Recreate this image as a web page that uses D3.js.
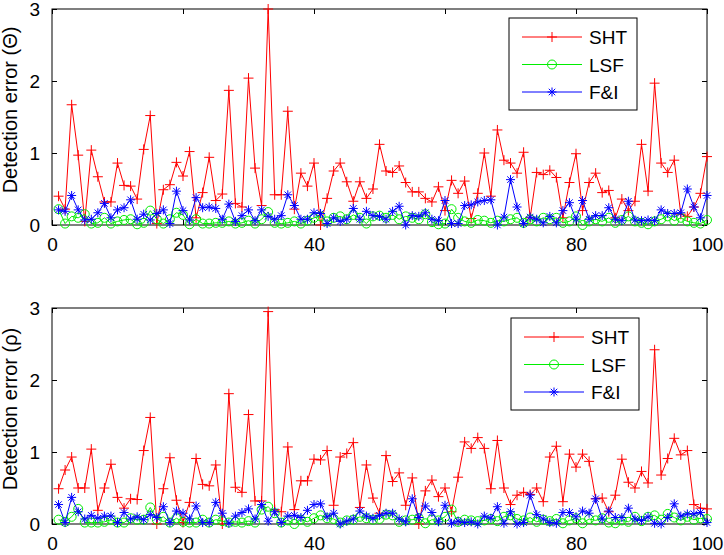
<!DOCTYPE html>
<html>
<head>
<meta charset="utf-8">
<style>
  body { margin: 0; background: #fff; }
  svg text { font-family: "Liberation Sans", Arial, Helvetica, sans-serif; }
</style>
</head>
<body>
<div id="viz_area"></div>
<script src="https://d3js.org/d3.v7.min.js"></script>
<script>
    // trial index (1..100) and the x tick labels
    var trials = d3.range(1, 101);
    var xTicks = [0, 20, 40, 60, 80, 100];
    var yTicks = [0, 1, 2, 3];
    var seriesNames = ["SHT", "LSF", "F&I"];

    // detection error (Theta)
    var shtTheta = [0.40,0.22,1.67,0.97,0.05,1.04,0.67,0.32,0.32,0.86,
                    0.55,0.54,0.36,1.05,1.52,0.02,0.49,0.56,0.87,0.68,
                    1.02,0.10,0.45,0.94,0.34,0.43,1.87,0.30,0.25,2.04,
                    0.79,0.27,3.00,0.42,0.42,1.58,0.22,0.72,0.54,0.86,
                    0.00,0.37,0.75,0.86,0.60,0.33,0.60,0.37,0.50,1.12,
                    0.75,0.73,0.82,0.59,0.46,0.46,0.37,0.32,0.53,0.20,
                    0.62,0.44,0.61,0.09,0.44,1.00,0.40,1.32,0.90,0.86,
                    0.72,1.01,0.10,0.73,0.70,0.76,0.66,0.10,0.59,0.99,
                    0.20,0.59,0.72,0.45,0.48,0.10,0.36,0.20,0.33,1.12,
                    0.47,1.97,0.86,0.73,0.90,0.15,0.12,0.25,0.44,0.95];
    var lsfTheta = [0.22,0.02,0.12,0.10,0.15,0.02,0.03,0.10,0.02,0.05,
                    0.07,0.08,0.01,0.03,0.20,0.08,0.02,0.08,0.17,0.14,
                    0.01,0.08,0.02,0.02,0.03,0.03,0.05,0.02,0.03,0.06,
                    0.02,0.08,0.18,0.03,0.02,0.03,0.05,0.02,0.06,0.10,
                    0.12,0.05,0.10,0.12,0.08,0.14,0.10,0.02,0.12,0.13,
                    0.10,0.14,0.08,0.12,0.10,0.08,0.15,0.04,0.01,0.02,
                    0.22,0.10,0.05,0.03,0.07,0.06,0.03,0.06,0.05,0.08,
                    0.10,0.03,0.08,0.05,0.10,0.08,0.10,0.03,0.05,0.12,
                    0.00,0.05,0.08,0.05,0.10,0.03,0.07,0.12,0.05,0.03,
                    0.01,0.05,0.08,0.12,0.06,0.10,0.05,0.03,0.02,0.07];
    var fiTheta  = [0.21,0.19,0.41,0.21,0.07,0.08,0.17,0.30,0.10,0.21,
                    0.24,0.35,0.08,0.15,0.07,0.16,0.21,0.02,0.47,0.20,
                    0.07,0.38,0.24,0.25,0.23,0.08,0.29,0.05,0.13,0.21,
                    0.06,0.21,0.12,0.08,0.13,0.42,0.27,0.08,0.08,0.17,
                    0.16,0.02,0.10,0.05,0.08,0.23,0.08,0.19,0.13,0.12,
                    0.08,0.19,0.26,0.00,0.13,0.12,0.17,0.08,0.06,0.34,
                    0.02,0.02,0.27,0.28,0.32,0.34,0.35,0.00,0.11,0.63,
                    0.25,0.02,0.11,0.08,0.03,0.12,0.03,0.20,0.31,0.08,
                    0.34,0.08,0.13,0.13,0.24,0.08,0.06,0.33,0.07,0.06,
                    0.07,0.06,0.21,0.16,0.16,0.17,0.50,0.25,0.10,0.41];

    // detection error (rho)
    var shtRho = [0.49,0.75,0.93,0.50,0.50,1.04,0.19,0.50,0.83,0.37,
                  0.22,0.35,0.34,1.02,1.48,0.00,0.49,0.92,0.33,0.02,
                  0.30,0.91,0.55,0.53,0.82,0.00,1.81,0.51,0.44,1.52,
                  0.32,0.32,2.95,0.20,0.17,1.07,0.20,0.60,0.60,0.90,
                  0.89,1.02,0.26,0.93,0.98,1.13,0.23,0.82,0.36,0.15,
                  0.95,0.59,0.71,0.26,0.64,0.00,0.46,0.61,0.38,0.50,
                  0.17,0.65,1.14,1.05,1.20,1.05,0.49,1.16,0.50,0.27,
                  0.40,0.44,0.41,0.50,0.31,0.93,1.08,0.31,0.97,0.79,
                  0.97,0.87,0.35,0.36,0.17,0.40,0.90,0.58,0.50,0.73,
                  0.57,2.42,0.68,0.91,1.19,0.96,1.02,0.27,0.22,0.21];
    var lsfRho = [0.06,0.03,0.10,0.21,0.02,0.02,0.02,0.03,0.06,0.02,
                  0.02,0.08,0.06,0.06,0.23,0.06,0.10,0.02,0.08,0.03,
                  0.02,0.02,0.06,0.02,0.06,0.04,0.02,0.03,0.02,0.04,
                  0.02,0.20,0.24,0.15,0.02,0.05,0.00,0.06,0.03,0.08,
                  0.12,0.08,0.07,0.02,0.05,0.06,0.10,0.08,0.06,0.07,
                  0.13,0.12,0.03,0.05,0.06,0.08,0.01,0.06,0.05,0.10,
                  0.20,0.03,0.06,0.05,0.04,0.05,0.07,0.04,0.10,0.12,
                  0.07,0.05,0.09,0.03,0.06,0.04,0.07,0.01,0.05,0.08,
                  0.01,0.07,0.05,0.08,0.02,0.01,0.05,0.03,0.10,0.04,
                  0.10,0.12,0.06,0.14,0.09,0.05,0.10,0.06,0.08,0.07];
    var fiRho  = [0.27,0.02,0.37,0.17,0.07,0.12,0.08,0.11,0.11,0.02,
                  0.16,0.07,0.10,0.06,0.13,0.09,0.24,0.02,0.18,0.15,
                  0.07,0.25,0.02,0.02,0.30,0.15,0.01,0.11,0.16,0.21,
                  0.07,0.27,0.04,0.17,0.02,0.11,0.12,0.09,0.19,0.27,
                  0.28,0.10,0.15,0.00,0.04,0.07,0.18,0.11,0.08,0.12,
                  0.15,0.15,0.07,0.03,0.35,0.09,0.25,0.16,0.03,0.26,
                  0.01,0.04,0.02,0.03,0.00,0.11,0.08,0.24,0.01,0.17,
                  0.00,0.02,0.40,0.13,0.07,0.02,0.01,0.16,0.16,0.10,
                  0.18,0.15,0.35,0.07,0.18,0.09,0.09,0.22,0.07,0.05,
                  0.10,0.01,0.00,0.09,0.28,0.11,0.14,0.14,0.16,0.02];

    var colors = {"SHT": "#ff0000", "LSF": "#00ee00", "F&I": "#0000ff"};
    var markers = {"SHT": "plus", "LSF": "circle", "F&I": "star"};

    var W = 724, H = 555;
    var left = 52, right = 707;

    var svg = d3.select("#viz_area")
        .append("svg")
        .attr("width", W)
        .attr("height", H);

    var x = d3.scaleLinear().domain([0, 100]).range([left, right]);

    // draw a matlab-ish marker at (cx, cy)
    function drawMarker(g, type, cx, cy, color) {
        if (type === "plus") {
            var s = 5;
            g.append("path")
                .attr("d", "M" + (cx - s) + "," + cy + "H" + (cx + s) + "M" + cx + "," + (cy - s) + "V" + (cy + s))
                .attr("stroke", color).attr("stroke-width", 1).attr("fill", "none");
        } else if (type === "circle") {
            g.append("circle")
                .attr("cx", cx).attr("cy", cy).attr("r", 4.5)
                .attr("stroke", color).attr("stroke-width", 1).attr("fill", "none");
        } else {
            var s = 4.5, d = s * 0.72;
            g.append("path")
                .attr("d", "M" + (cx - s) + "," + cy + "H" + (cx + s) +
                           "M" + cx + "," + (cy - s) + "V" + (cy + s) +
                           "M" + (cx - d) + "," + (cy - d) + "L" + (cx + d) + "," + (cy + d) +
                           "M" + (cx - d) + "," + (cy + d) + "L" + (cx + d) + "," + (cy - d))
                .attr("stroke", color).attr("stroke-width", 1).attr("fill", "none");
        }
    }

    function drawPanel(top, bottom, data, label, legendX, legendY) {
        var y = d3.scaleLinear().domain([0, 3]).range([bottom, top]);
        var g = svg.append("g");

        // axes box with inward ticks on all four sides
        g.append("g")
            .attr("transform", "translate(0," + bottom + ")")
            .call(d3.axisBottom(x).tickValues(xTicks).tickFormat(d3.format("d"))
                .tickSizeInner(-5).tickSizeOuter(0).tickPadding(13))
            .call(function(a) { a.select(".domain").remove(); });
        g.append("g")
            .attr("transform", "translate(0," + top + ")")
            .call(d3.axisTop(x).tickValues(xTicks).tickSizeInner(-5).tickSizeOuter(0).tickFormat(""))
            .call(function(a) { a.select(".domain").remove(); });
        g.append("g")
            .attr("transform", "translate(" + left + ",0)")
            .call(d3.axisLeft(y).tickValues(yTicks).tickFormat(d3.format("d"))
                .tickSizeInner(-5).tickSizeOuter(0).tickPadding(12))
            .call(function(a) { a.select(".domain").remove(); });
        g.append("g")
            .attr("transform", "translate(" + right + ",0)")
            .call(d3.axisRight(y).tickValues(yTicks).tickSizeInner(-5).tickSizeOuter(0).tickFormat(""))
            .call(function(a) { a.select(".domain").remove(); });

        g.selectAll(".tick text")
            .attr("font-size", 19)
            .attr("fill", "#000")
            .attr("font-family", "'Liberation Sans', Arial, sans-serif");
        g.selectAll(".tick line").attr("stroke", "#000");

        g.append("rect")
            .attr("x", left).attr("y", top)
            .attr("width", right - left).attr("height", bottom - top)
            .attr("fill", "none").attr("stroke", "#000").attr("stroke-width", 1);

        // y label
        g.append("text")
            .attr("transform", "translate(17," + ((top + bottom) / 2 - 7) + ") rotate(-90)")
            .attr("text-anchor", "middle")
            .attr("font-size", 20)
            .text(label);

        // series lines + markers
        seriesNames.forEach(function(name, k) {
            var vals = data[k];
            var line = d3.line()
                .x(function(d, i) { return x(trials[i]); })
                .y(function(d) { return y(d); });
            g.append("path")
                .datum(vals)
                .attr("d", line)
                .attr("fill", "none")
                .attr("stroke", colors[name])
                .attr("stroke-width", 1);
            var mg = g.append("g");
            vals.forEach(function(v, i) {
                drawMarker(mg, markers[name], x(trials[i]), y(v), colors[name]);
            });
        });

        // legend
        var lw = 128, lh = 92;
        var lg = g.append("g").attr("transform", "translate(" + legendX + "," + legendY + ")");
        lg.append("rect")
            .attr("width", lw).attr("height", lh)
            .attr("fill", "#fff").attr("stroke", "#000").attr("stroke-width", 1);
        seriesNames.forEach(function(name, k) {
            var ly = 19 + k * 27.5;
            lg.append("line")
                .attr("x1", 13).attr("x2", 73).attr("y1", ly).attr("y2", ly)
                .attr("stroke", colors[name]).attr("stroke-width", 1);
            drawMarker(lg, markers[name], 43, ly, colors[name]);
            lg.append("text")
                .attr("x", 80).attr("y", ly + 7)
                .attr("font-size", 19)
                .text(name);
        });
    }

    drawPanel(9, 225, [shtTheta, lsfTheta, fiTheta], "Detection error (\u0398)", 509, 18);
    drawPanel(308, 524, [shtRho, lsfRho, fiRho], "Detection error (\u03C1)", 511, 318);
</script>
</body>
</html>
